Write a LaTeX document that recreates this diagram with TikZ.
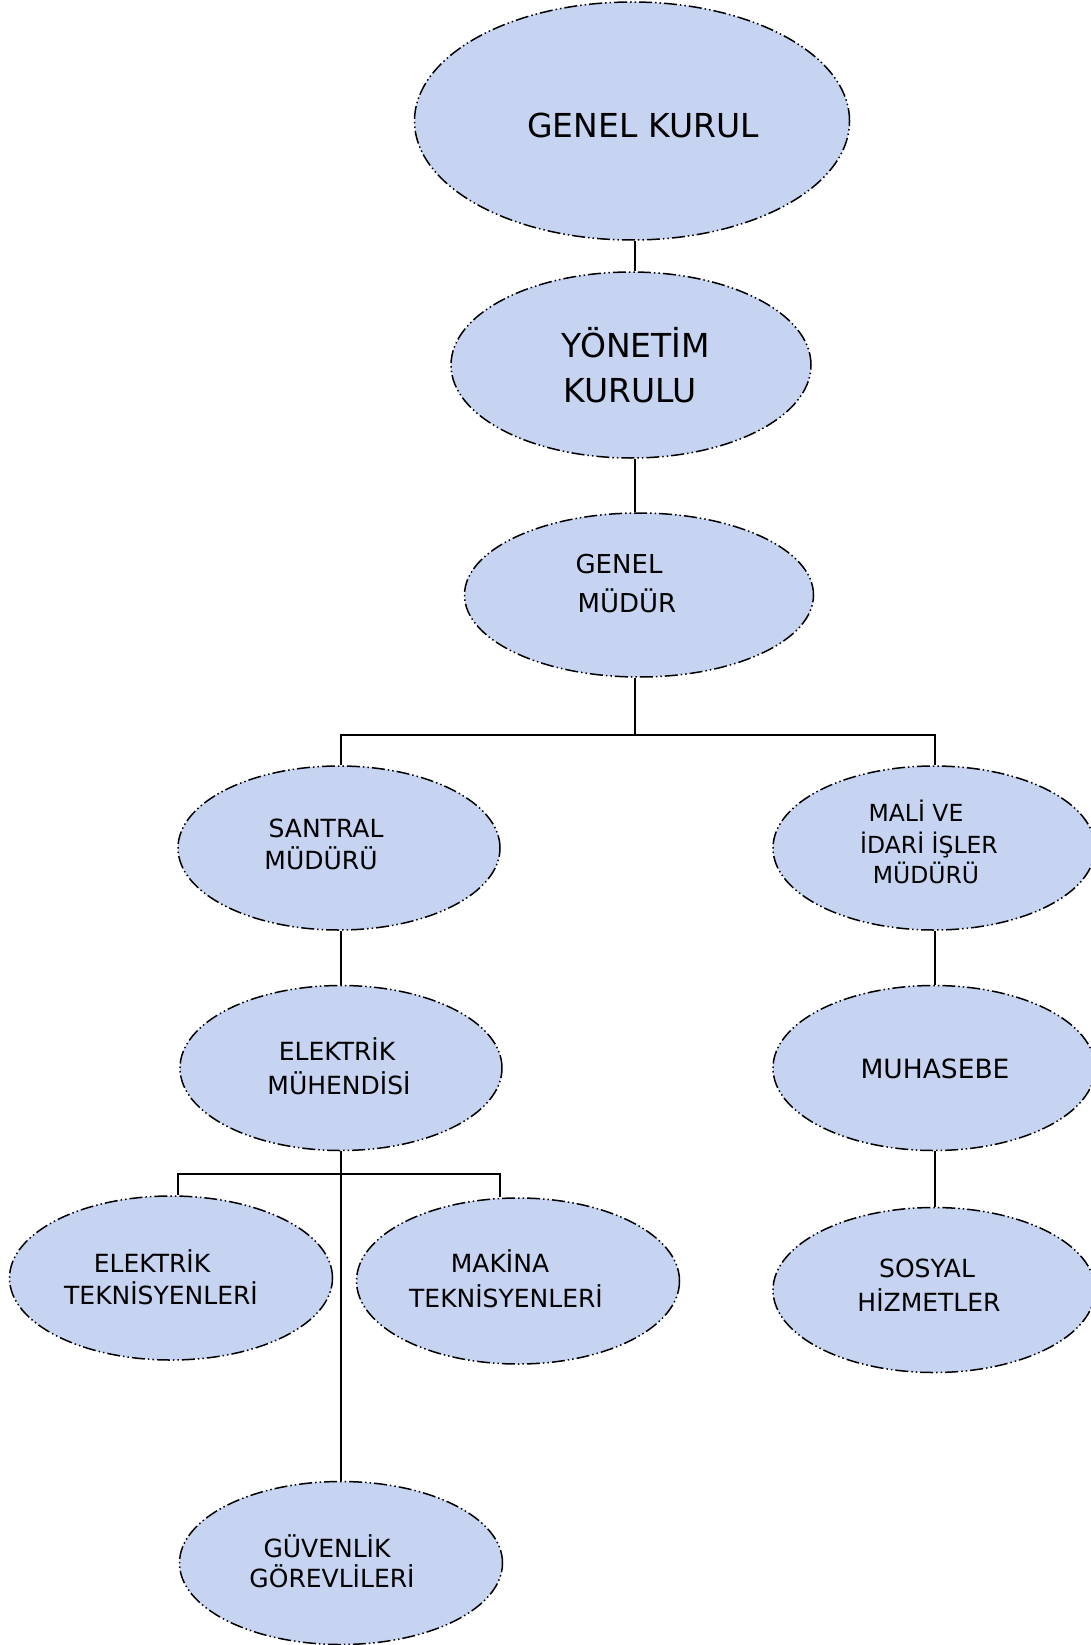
\documentclass[tikz,border=0pt]{standalone}
\usepackage{fontspec}
\setmainfont{DejaVu Sans}
\usetikzlibrary{shapes.geometric}
\definecolor{fillc}{RGB}{198,212,242}
\begin{document}
\begin{tikzpicture}[x=1pt,y=-1pt,
  org/.style={ellipse, draw=black, line width=1.5pt, fill=fillc, inner sep=0pt,
    dash pattern=on 13pt off 3pt on 1.5pt off 3pt on 1.5pt off 3pt},
  conn/.style={draw=black, line width=1.4pt},
  big/.style={anchor=base, inner sep=0pt, font=\fontsize{33}{40}\selectfont},
  mid/.style={anchor=base, inner sep=0pt, font=\fontsize{25}{30}\selectfont},
  sml/.style={anchor=base, inner sep=0pt, font=\fontsize{23.5}{28}\selectfont}]
\useasboundingbox (0,0) rectangle (1091,1645);
% ellipses
\node[org, minimum width=435pt, minimum height=238pt] (gk) at (632,121) {};
\node[org, minimum width=360pt, minimum height=186pt] (yk) at (631,365) {};
\node[org, minimum width=349pt, minimum height=164pt] (gm) at (639,595) {};
\node[org, minimum width=322pt, minimum height=164pt] (sm) at (339,848) {};
\node[org, minimum width=322pt, minimum height=164pt] (mi) at (934,848) {};
\node[org, minimum width=322pt, minimum height=165pt] (em) at (341,1068) {};
\node[org, minimum width=322pt, minimum height=165pt] (mu) at (934,1068) {};
\node[org, minimum width=322pt, minimum height=165pt] (ss) at (934,1290) {};
\node[org, minimum width=323pt, minimum height=164pt] (et) at (171,1278) {};
\node[org, minimum width=323pt, minimum height=166pt] (mt) at (518,1281) {};
\node[org, minimum width=323pt, minimum height=163pt] (gv) at (341,1563) {};
% connector coordinates
\coordinate (cx) at (635,0);
\coordinate (rx) at (935,0);
\coordinate (lx) at (341,0);
\coordinate (bar) at (635,735);
\coordinate (ebar) at (341,1174);
\coordinate (etx) at (178,0);
\coordinate (mtx) at (500,0);
% connectors
\draw[conn] (gk.south -| cx) -- (yk.north -| cx);
\draw[conn] (yk.south -| cx) -- (gm.north -| cx);
\draw[conn] (gm.south -| cx) -- (bar);
\draw[conn] (sm.north -| lx) |- (bar) -| (mi.north -| rx);
\draw[conn] (sm.south -| lx) -- (em.north -| lx);
\draw[conn] (em.south -| lx) -- (gv.north -| lx);
\draw[conn] (et.north -| etx) |- (ebar) -| (mt.north -| mtx);
\draw[conn] (mi.south -| rx) -- (mu.north -| rx);
\draw[conn] (mu.south -| rx) -- (ss.north -| rx);
% texts
\node[big] (t1) at (643,138) {GENEL KURUL};
\node[big] (t2a) at (636,357) {YÖNETİM};
\node[big] (t2b) at (630,402) {KURULU};
\node[mid, font=\fontsize{26}{30}\selectfont] (t3a) at (619,573.5) {GENEL};
\node[mid, font=\fontsize{26}{30}\selectfont] (t3b) at (627,612.5) {MÜDÜR};
\node[mid] (t4a) at (326,837) {SANTRAL};
\node[mid] (t4b) at (321,869) {MÜDÜRÜ};
\node[sml] (t5a) at (916,821.6) {MALİ VE};
\node[sml] (t5b) at (929,853.6) {İDARİ İŞLER};
\node[sml] (t5c) at (926,883.6) {MÜDÜRÜ};
\node[mid] (t6a) at (337,1060) {ELEKTRİK};
\node[mid] (t6b) at (339,1094) {MÜHENDİSİ};
\node[mid, font=\fontsize{26.5}{30}\selectfont] (t7) at (935,1078.5) {MUHASEBE};
\node[mid] (t8a) at (927,1277) {SOSYAL};
\node[mid] (t8b) at (929,1311) {HİZMETLER};
\node[mid] (t9a) at (152,1272) {ELEKTRİK};
\node[mid] (t9b) at (161,1304) {TEKNİSYENLERİ};
\node[mid] (t10a) at (500,1272) {MAKİNA};
\node[mid] (t10b) at (506,1307) {TEKNİSYENLERİ};
\node[mid] (t11a) at (327,1557) {GÜVENLİK};
\node[mid] (t11b) at (332,1587) {GÖREVLİLERİ};
\end{tikzpicture}
\end{document}
